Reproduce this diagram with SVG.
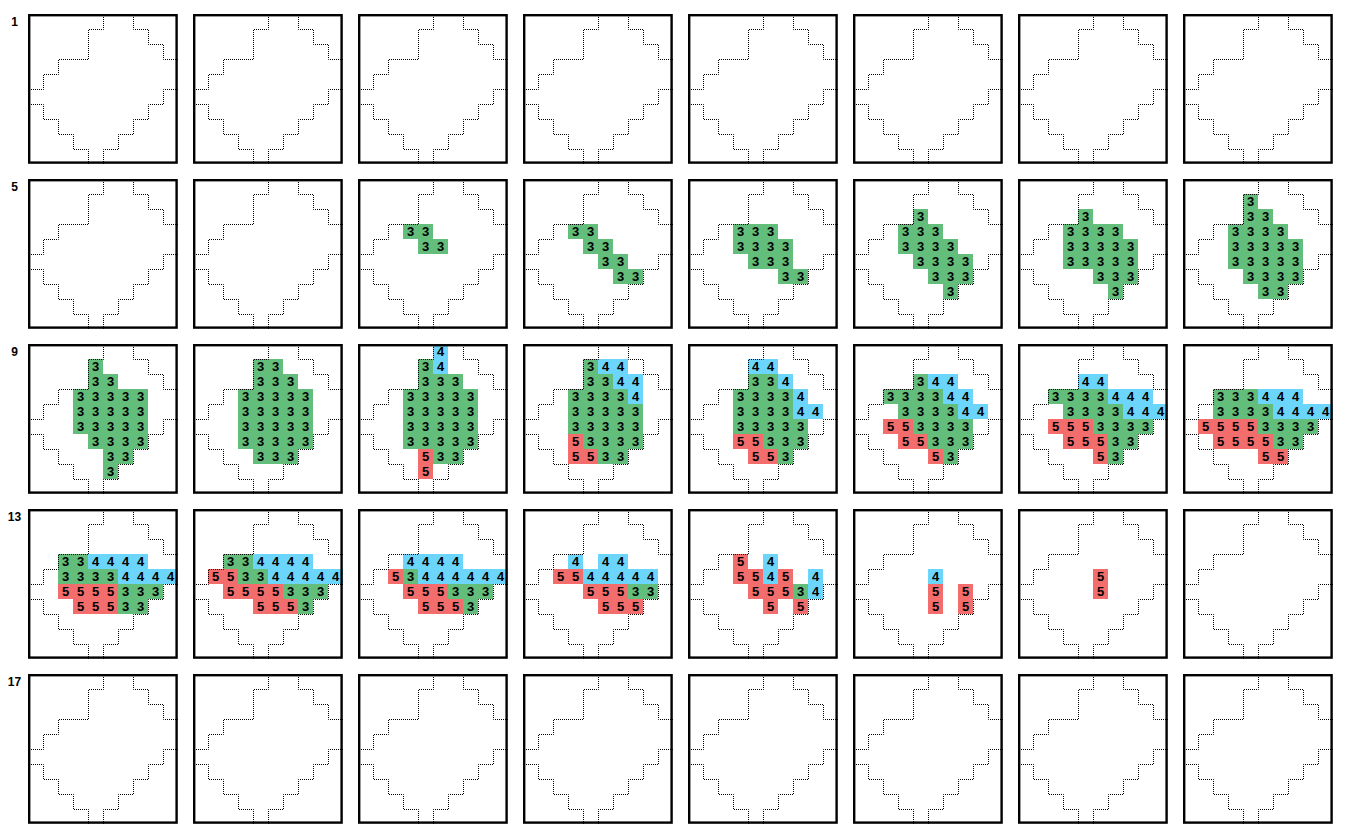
<svg xmlns="http://www.w3.org/2000/svg" xmlns:xlink="http://www.w3.org/1999/xlink" width="1349" height="839" viewBox="0 0 1349 839">
<style>
.g,.b,.r{width:15px;height:15px}
.g{fill:#63be7b}.b{fill:#6cd5fb}.r{fill:#f46d6d}
text{font-family:"Liberation Sans",Arial,sans-serif;font-weight:bold;fill:#000}
.t{font-size:13px;text-anchor:middle}
.lab{font-size:12px;text-anchor:middle}
.dot{fill:none;stroke:#000;stroke-width:1;stroke-dasharray:1 1;stroke-dashoffset:1.5}
.bd{fill:none;stroke:#000;stroke-width:2.4}
</style>
<defs>
<g id="frame">
<path class="dot" transform="translate(0.5,0.5)" d="M75,0V15H60V45H30V60H15V75H0M105,0V15H120V30H135V45H150M0,90H15V105H30V120H45V135H60V150M150,75H135V90H120V105H105V120H90V135H75V150"/>
<rect class="bd" x="1.2" y="1.2" width="147.4" height="147.4"/>
</g>
</defs>
<rect width="1349" height="839" fill="#fff"/>
<g id="labels">
<text class="lab" x="14.5" y="26">1</text>
<text class="lab" x="14.5" y="191">5</text>
<text class="lab" x="14.5" y="356">9</text>
<text class="lab" x="14.5" y="521">13</text>
<text class="lab" x="14.5" y="686">17</text>
</g>
<g id="connectors"/>
<!-- row 1 -->
<g id="p1-1" transform="translate(28,14)"><use href="#frame"/></g>
<g id="p1-2" transform="translate(193,14)"><use href="#frame"/></g>
<g id="p1-3" transform="translate(358,14)"><use href="#frame"/></g>
<g id="p1-4" transform="translate(523,14)"><use href="#frame"/></g>
<g id="p1-5" transform="translate(688,14)"><use href="#frame"/></g>
<g id="p1-6" transform="translate(853,14)"><use href="#frame"/></g>
<g id="p1-7" transform="translate(1018,14)"><use href="#frame"/></g>
<g id="p1-8" transform="translate(1183,14)"><use href="#frame"/></g>
<!-- row 2 -->
<g id="p2-1" transform="translate(28,179)"><use href="#frame"/></g>
<g id="p2-2" transform="translate(193,179)"><use href="#frame"/></g>
<g id="p2-3" transform="translate(358,179)">
<rect class="g" x="45" y="45"/><text class="t" x="52.5" y="57">3</text>
<rect class="g" x="60" y="45"/><text class="t" x="67.5" y="57">3</text>
<rect class="g" x="60" y="60"/><text class="t" x="67.5" y="72">3</text>
<rect class="g" x="75" y="60"/><text class="t" x="82.5" y="72">3</text>
<use href="#frame"/></g>
<g id="p2-4" transform="translate(523,179)">
<rect class="g" x="45" y="45"/><text class="t" x="52.5" y="57">3</text>
<rect class="g" x="60" y="45"/><text class="t" x="67.5" y="57">3</text>
<rect class="g" x="60" y="60"/><text class="t" x="67.5" y="72">3</text>
<rect class="g" x="75" y="60"/><text class="t" x="82.5" y="72">3</text>
<rect class="g" x="75" y="75"/><text class="t" x="82.5" y="87">3</text>
<rect class="g" x="90" y="75"/><text class="t" x="97.5" y="87">3</text>
<rect class="g" x="90" y="90"/><text class="t" x="97.5" y="102">3</text>
<rect class="g" x="105" y="90"/><text class="t" x="112.5" y="102">3</text>
<use href="#frame"/></g>
<g id="p2-5" transform="translate(688,179)">
<rect class="g" x="45" y="45"/><text class="t" x="52.5" y="57">3</text>
<rect class="g" x="60" y="45"/><text class="t" x="67.5" y="57">3</text>
<rect class="g" x="75" y="45"/><text class="t" x="82.5" y="57">3</text>
<rect class="g" x="45" y="60"/><text class="t" x="52.5" y="72">3</text>
<rect class="g" x="60" y="60"/><text class="t" x="67.5" y="72">3</text>
<rect class="g" x="75" y="60"/><text class="t" x="82.5" y="72">3</text>
<rect class="g" x="90" y="60"/><text class="t" x="97.5" y="72">3</text>
<rect class="g" x="60" y="75"/><text class="t" x="67.5" y="87">3</text>
<rect class="g" x="75" y="75"/><text class="t" x="82.5" y="87">3</text>
<rect class="g" x="90" y="75"/><text class="t" x="97.5" y="87">3</text>
<rect class="g" x="90" y="90"/><text class="t" x="97.5" y="102">3</text>
<rect class="g" x="105" y="90"/><text class="t" x="112.5" y="102">3</text>
<use href="#frame"/></g>
<g id="p2-6" transform="translate(853,179)">
<rect class="g" x="60" y="30"/><text class="t" x="67.5" y="42">3</text>
<rect class="g" x="45" y="45"/><text class="t" x="52.5" y="57">3</text>
<rect class="g" x="60" y="45"/><text class="t" x="67.5" y="57">3</text>
<rect class="g" x="75" y="45"/><text class="t" x="82.5" y="57">3</text>
<rect class="g" x="45" y="60"/><text class="t" x="52.5" y="72">3</text>
<rect class="g" x="60" y="60"/><text class="t" x="67.5" y="72">3</text>
<rect class="g" x="75" y="60"/><text class="t" x="82.5" y="72">3</text>
<rect class="g" x="90" y="60"/><text class="t" x="97.5" y="72">3</text>
<rect class="g" x="60" y="75"/><text class="t" x="67.5" y="87">3</text>
<rect class="g" x="75" y="75"/><text class="t" x="82.5" y="87">3</text>
<rect class="g" x="90" y="75"/><text class="t" x="97.5" y="87">3</text>
<rect class="g" x="105" y="75"/><text class="t" x="112.5" y="87">3</text>
<rect class="g" x="75" y="90"/><text class="t" x="82.5" y="102">3</text>
<rect class="g" x="90" y="90"/><text class="t" x="97.5" y="102">3</text>
<rect class="g" x="105" y="90"/><text class="t" x="112.5" y="102">3</text>
<rect class="g" x="90" y="105"/><text class="t" x="97.5" y="117">3</text>
<use href="#frame"/></g>
<g id="p2-7" transform="translate(1018,179)">
<rect class="g" x="60" y="30"/><text class="t" x="67.5" y="42">3</text>
<rect class="g" x="45" y="45"/><text class="t" x="52.5" y="57">3</text>
<rect class="g" x="60" y="45"/><text class="t" x="67.5" y="57">3</text>
<rect class="g" x="75" y="45"/><text class="t" x="82.5" y="57">3</text>
<rect class="g" x="90" y="45"/><text class="t" x="97.5" y="57">3</text>
<rect class="g" x="45" y="60"/><text class="t" x="52.5" y="72">3</text>
<rect class="g" x="60" y="60"/><text class="t" x="67.5" y="72">3</text>
<rect class="g" x="75" y="60"/><text class="t" x="82.5" y="72">3</text>
<rect class="g" x="90" y="60"/><text class="t" x="97.5" y="72">3</text>
<rect class="g" x="105" y="60"/><text class="t" x="112.5" y="72">3</text>
<rect class="g" x="45" y="75"/><text class="t" x="52.5" y="87">3</text>
<rect class="g" x="60" y="75"/><text class="t" x="67.5" y="87">3</text>
<rect class="g" x="75" y="75"/><text class="t" x="82.5" y="87">3</text>
<rect class="g" x="90" y="75"/><text class="t" x="97.5" y="87">3</text>
<rect class="g" x="105" y="75"/><text class="t" x="112.5" y="87">3</text>
<rect class="g" x="75" y="90"/><text class="t" x="82.5" y="102">3</text>
<rect class="g" x="90" y="90"/><text class="t" x="97.5" y="102">3</text>
<rect class="g" x="105" y="90"/><text class="t" x="112.5" y="102">3</text>
<rect class="g" x="90" y="105"/><text class="t" x="97.5" y="117">3</text>
<use href="#frame"/></g>
<g id="p2-8" transform="translate(1183,179)">
<rect class="g" x="60" y="15"/><text class="t" x="67.5" y="27">3</text>
<rect class="g" x="60" y="30"/><text class="t" x="67.5" y="42">3</text>
<rect class="g" x="75" y="30"/><text class="t" x="82.5" y="42">3</text>
<rect class="g" x="45" y="45"/><text class="t" x="52.5" y="57">3</text>
<rect class="g" x="60" y="45"/><text class="t" x="67.5" y="57">3</text>
<rect class="g" x="75" y="45"/><text class="t" x="82.5" y="57">3</text>
<rect class="g" x="90" y="45"/><text class="t" x="97.5" y="57">3</text>
<rect class="g" x="45" y="60"/><text class="t" x="52.5" y="72">3</text>
<rect class="g" x="60" y="60"/><text class="t" x="67.5" y="72">3</text>
<rect class="g" x="75" y="60"/><text class="t" x="82.5" y="72">3</text>
<rect class="g" x="90" y="60"/><text class="t" x="97.5" y="72">3</text>
<rect class="g" x="105" y="60"/><text class="t" x="112.5" y="72">3</text>
<rect class="g" x="45" y="75"/><text class="t" x="52.5" y="87">3</text>
<rect class="g" x="60" y="75"/><text class="t" x="67.5" y="87">3</text>
<rect class="g" x="75" y="75"/><text class="t" x="82.5" y="87">3</text>
<rect class="g" x="90" y="75"/><text class="t" x="97.5" y="87">3</text>
<rect class="g" x="105" y="75"/><text class="t" x="112.5" y="87">3</text>
<rect class="g" x="60" y="90"/><text class="t" x="67.5" y="102">3</text>
<rect class="g" x="75" y="90"/><text class="t" x="82.5" y="102">3</text>
<rect class="g" x="90" y="90"/><text class="t" x="97.5" y="102">3</text>
<rect class="g" x="105" y="90"/><text class="t" x="112.5" y="102">3</text>
<rect class="g" x="75" y="105"/><text class="t" x="82.5" y="117">3</text>
<rect class="g" x="90" y="105"/><text class="t" x="97.5" y="117">3</text>
<use href="#frame"/></g>
<!-- row 3 -->
<g id="p3-1" transform="translate(28,344)">
<rect class="g" x="60" y="15"/><text class="t" x="67.5" y="27">3</text>
<rect class="g" x="60" y="30"/><text class="t" x="67.5" y="42">3</text>
<rect class="g" x="75" y="30"/><text class="t" x="82.5" y="42">3</text>
<rect class="g" x="45" y="45"/><text class="t" x="52.5" y="57">3</text>
<rect class="g" x="60" y="45"/><text class="t" x="67.5" y="57">3</text>
<rect class="g" x="75" y="45"/><text class="t" x="82.5" y="57">3</text>
<rect class="g" x="90" y="45"/><text class="t" x="97.5" y="57">3</text>
<rect class="g" x="105" y="45"/><text class="t" x="112.5" y="57">3</text>
<rect class="g" x="45" y="60"/><text class="t" x="52.5" y="72">3</text>
<rect class="g" x="60" y="60"/><text class="t" x="67.5" y="72">3</text>
<rect class="g" x="75" y="60"/><text class="t" x="82.5" y="72">3</text>
<rect class="g" x="90" y="60"/><text class="t" x="97.5" y="72">3</text>
<rect class="g" x="105" y="60"/><text class="t" x="112.5" y="72">3</text>
<rect class="g" x="45" y="75"/><text class="t" x="52.5" y="87">3</text>
<rect class="g" x="60" y="75"/><text class="t" x="67.5" y="87">3</text>
<rect class="g" x="75" y="75"/><text class="t" x="82.5" y="87">3</text>
<rect class="g" x="90" y="75"/><text class="t" x="97.5" y="87">3</text>
<rect class="g" x="105" y="75"/><text class="t" x="112.5" y="87">3</text>
<rect class="g" x="60" y="90"/><text class="t" x="67.5" y="102">3</text>
<rect class="g" x="75" y="90"/><text class="t" x="82.5" y="102">3</text>
<rect class="g" x="90" y="90"/><text class="t" x="97.5" y="102">3</text>
<rect class="g" x="105" y="90"/><text class="t" x="112.5" y="102">3</text>
<rect class="g" x="75" y="105"/><text class="t" x="82.5" y="117">3</text>
<rect class="g" x="90" y="105"/><text class="t" x="97.5" y="117">3</text>
<rect class="g" x="75" y="120"/><text class="t" x="82.5" y="132">3</text>
<use href="#frame"/></g>
<g id="p3-2" transform="translate(193,344)">
<rect class="g" x="60" y="15"/><text class="t" x="67.5" y="27">3</text>
<rect class="g" x="75" y="15"/><text class="t" x="82.5" y="27">3</text>
<rect class="g" x="60" y="30"/><text class="t" x="67.5" y="42">3</text>
<rect class="g" x="75" y="30"/><text class="t" x="82.5" y="42">3</text>
<rect class="g" x="90" y="30"/><text class="t" x="97.5" y="42">3</text>
<rect class="g" x="45" y="45"/><text class="t" x="52.5" y="57">3</text>
<rect class="g" x="60" y="45"/><text class="t" x="67.5" y="57">3</text>
<rect class="g" x="75" y="45"/><text class="t" x="82.5" y="57">3</text>
<rect class="g" x="90" y="45"/><text class="t" x="97.5" y="57">3</text>
<rect class="g" x="105" y="45"/><text class="t" x="112.5" y="57">3</text>
<rect class="g" x="45" y="60"/><text class="t" x="52.5" y="72">3</text>
<rect class="g" x="60" y="60"/><text class="t" x="67.5" y="72">3</text>
<rect class="g" x="75" y="60"/><text class="t" x="82.5" y="72">3</text>
<rect class="g" x="90" y="60"/><text class="t" x="97.5" y="72">3</text>
<rect class="g" x="105" y="60"/><text class="t" x="112.5" y="72">3</text>
<rect class="g" x="45" y="75"/><text class="t" x="52.5" y="87">3</text>
<rect class="g" x="60" y="75"/><text class="t" x="67.5" y="87">3</text>
<rect class="g" x="75" y="75"/><text class="t" x="82.5" y="87">3</text>
<rect class="g" x="90" y="75"/><text class="t" x="97.5" y="87">3</text>
<rect class="g" x="105" y="75"/><text class="t" x="112.5" y="87">3</text>
<rect class="g" x="45" y="90"/><text class="t" x="52.5" y="102">3</text>
<rect class="g" x="60" y="90"/><text class="t" x="67.5" y="102">3</text>
<rect class="g" x="75" y="90"/><text class="t" x="82.5" y="102">3</text>
<rect class="g" x="90" y="90"/><text class="t" x="97.5" y="102">3</text>
<rect class="g" x="105" y="90"/><text class="t" x="112.5" y="102">3</text>
<rect class="g" x="60" y="105"/><text class="t" x="67.5" y="117">3</text>
<rect class="g" x="75" y="105"/><text class="t" x="82.5" y="117">3</text>
<rect class="g" x="90" y="105"/><text class="t" x="97.5" y="117">3</text>
<use href="#frame"/></g>
<g id="p3-3" transform="translate(358,344)">
<rect class="b" x="75" y="0"/><text class="t" x="82.5" y="12">4</text>
<rect class="g" x="60" y="15"/><text class="t" x="67.5" y="27">3</text>
<rect class="b" x="75" y="15"/><text class="t" x="82.5" y="27">4</text>
<rect class="g" x="60" y="30"/><text class="t" x="67.5" y="42">3</text>
<rect class="g" x="75" y="30"/><text class="t" x="82.5" y="42">3</text>
<rect class="g" x="90" y="30"/><text class="t" x="97.5" y="42">3</text>
<rect class="g" x="45" y="45"/><text class="t" x="52.5" y="57">3</text>
<rect class="g" x="60" y="45"/><text class="t" x="67.5" y="57">3</text>
<rect class="g" x="75" y="45"/><text class="t" x="82.5" y="57">3</text>
<rect class="g" x="90" y="45"/><text class="t" x="97.5" y="57">3</text>
<rect class="g" x="105" y="45"/><text class="t" x="112.5" y="57">3</text>
<rect class="g" x="45" y="60"/><text class="t" x="52.5" y="72">3</text>
<rect class="g" x="60" y="60"/><text class="t" x="67.5" y="72">3</text>
<rect class="g" x="75" y="60"/><text class="t" x="82.5" y="72">3</text>
<rect class="g" x="90" y="60"/><text class="t" x="97.5" y="72">3</text>
<rect class="g" x="105" y="60"/><text class="t" x="112.5" y="72">3</text>
<rect class="g" x="45" y="75"/><text class="t" x="52.5" y="87">3</text>
<rect class="g" x="60" y="75"/><text class="t" x="67.5" y="87">3</text>
<rect class="g" x="75" y="75"/><text class="t" x="82.5" y="87">3</text>
<rect class="g" x="90" y="75"/><text class="t" x="97.5" y="87">3</text>
<rect class="g" x="105" y="75"/><text class="t" x="112.5" y="87">3</text>
<rect class="g" x="45" y="90"/><text class="t" x="52.5" y="102">3</text>
<rect class="g" x="60" y="90"/><text class="t" x="67.5" y="102">3</text>
<rect class="g" x="75" y="90"/><text class="t" x="82.5" y="102">3</text>
<rect class="g" x="90" y="90"/><text class="t" x="97.5" y="102">3</text>
<rect class="g" x="105" y="90"/><text class="t" x="112.5" y="102">3</text>
<rect class="r" x="60" y="105"/><text class="t" x="67.5" y="117">5</text>
<rect class="g" x="75" y="105"/><text class="t" x="82.5" y="117">3</text>
<rect class="g" x="90" y="105"/><text class="t" x="97.5" y="117">3</text>
<rect class="r" x="60" y="120"/><text class="t" x="67.5" y="132">5</text>
<use href="#frame"/></g>
<g id="p3-4" transform="translate(523,344)">
<rect class="g" x="60" y="15"/><text class="t" x="67.5" y="27">3</text>
<rect class="b" x="75" y="15"/><text class="t" x="82.5" y="27">4</text>
<rect class="b" x="90" y="15"/><text class="t" x="97.5" y="27">4</text>
<rect class="g" x="60" y="30"/><text class="t" x="67.5" y="42">3</text>
<rect class="g" x="75" y="30"/><text class="t" x="82.5" y="42">3</text>
<rect class="b" x="90" y="30"/><text class="t" x="97.5" y="42">4</text>
<rect class="b" x="105" y="30"/><text class="t" x="112.5" y="42">4</text>
<rect class="g" x="45" y="45"/><text class="t" x="52.5" y="57">3</text>
<rect class="g" x="60" y="45"/><text class="t" x="67.5" y="57">3</text>
<rect class="g" x="75" y="45"/><text class="t" x="82.5" y="57">3</text>
<rect class="g" x="90" y="45"/><text class="t" x="97.5" y="57">3</text>
<rect class="b" x="105" y="45"/><text class="t" x="112.5" y="57">4</text>
<rect class="g" x="45" y="60"/><text class="t" x="52.5" y="72">3</text>
<rect class="g" x="60" y="60"/><text class="t" x="67.5" y="72">3</text>
<rect class="g" x="75" y="60"/><text class="t" x="82.5" y="72">3</text>
<rect class="g" x="90" y="60"/><text class="t" x="97.5" y="72">3</text>
<rect class="g" x="105" y="60"/><text class="t" x="112.5" y="72">3</text>
<rect class="g" x="45" y="75"/><text class="t" x="52.5" y="87">3</text>
<rect class="g" x="60" y="75"/><text class="t" x="67.5" y="87">3</text>
<rect class="g" x="75" y="75"/><text class="t" x="82.5" y="87">3</text>
<rect class="g" x="90" y="75"/><text class="t" x="97.5" y="87">3</text>
<rect class="g" x="105" y="75"/><text class="t" x="112.5" y="87">3</text>
<rect class="r" x="45" y="90"/><text class="t" x="52.5" y="102">5</text>
<rect class="g" x="60" y="90"/><text class="t" x="67.5" y="102">3</text>
<rect class="g" x="75" y="90"/><text class="t" x="82.5" y="102">3</text>
<rect class="g" x="90" y="90"/><text class="t" x="97.5" y="102">3</text>
<rect class="g" x="105" y="90"/><text class="t" x="112.5" y="102">3</text>
<rect class="r" x="45" y="105"/><text class="t" x="52.5" y="117">5</text>
<rect class="r" x="60" y="105"/><text class="t" x="67.5" y="117">5</text>
<rect class="g" x="75" y="105"/><text class="t" x="82.5" y="117">3</text>
<rect class="g" x="90" y="105"/><text class="t" x="97.5" y="117">3</text>
<use href="#frame"/></g>
<g id="p3-5" transform="translate(688,344)">
<rect class="b" x="60" y="15"/><text class="t" x="67.5" y="27">4</text>
<rect class="b" x="75" y="15"/><text class="t" x="82.5" y="27">4</text>
<rect class="g" x="60" y="30"/><text class="t" x="67.5" y="42">3</text>
<rect class="g" x="75" y="30"/><text class="t" x="82.5" y="42">3</text>
<rect class="b" x="90" y="30"/><text class="t" x="97.5" y="42">4</text>
<rect class="g" x="45" y="45"/><text class="t" x="52.5" y="57">3</text>
<rect class="g" x="60" y="45"/><text class="t" x="67.5" y="57">3</text>
<rect class="g" x="75" y="45"/><text class="t" x="82.5" y="57">3</text>
<rect class="g" x="90" y="45"/><text class="t" x="97.5" y="57">3</text>
<rect class="b" x="105" y="45"/><text class="t" x="112.5" y="57">4</text>
<rect class="g" x="45" y="60"/><text class="t" x="52.5" y="72">3</text>
<rect class="g" x="60" y="60"/><text class="t" x="67.5" y="72">3</text>
<rect class="g" x="75" y="60"/><text class="t" x="82.5" y="72">3</text>
<rect class="g" x="90" y="60"/><text class="t" x="97.5" y="72">3</text>
<rect class="b" x="105" y="60"/><text class="t" x="112.5" y="72">4</text>
<rect class="b" x="120" y="60"/><text class="t" x="127.5" y="72">4</text>
<rect class="g" x="45" y="75"/><text class="t" x="52.5" y="87">3</text>
<rect class="g" x="60" y="75"/><text class="t" x="67.5" y="87">3</text>
<rect class="g" x="75" y="75"/><text class="t" x="82.5" y="87">3</text>
<rect class="g" x="90" y="75"/><text class="t" x="97.5" y="87">3</text>
<rect class="g" x="105" y="75"/><text class="t" x="112.5" y="87">3</text>
<rect class="r" x="45" y="90"/><text class="t" x="52.5" y="102">5</text>
<rect class="r" x="60" y="90"/><text class="t" x="67.5" y="102">5</text>
<rect class="g" x="75" y="90"/><text class="t" x="82.5" y="102">3</text>
<rect class="g" x="90" y="90"/><text class="t" x="97.5" y="102">3</text>
<rect class="g" x="105" y="90"/><text class="t" x="112.5" y="102">3</text>
<rect class="r" x="60" y="105"/><text class="t" x="67.5" y="117">5</text>
<rect class="r" x="75" y="105"/><text class="t" x="82.5" y="117">5</text>
<rect class="g" x="90" y="105"/><text class="t" x="97.5" y="117">3</text>
<use href="#frame"/></g>
<g id="p3-6" transform="translate(853,344)">
<rect class="g" x="60" y="30"/><text class="t" x="67.5" y="42">3</text>
<rect class="b" x="75" y="30"/><text class="t" x="82.5" y="42">4</text>
<rect class="b" x="90" y="30"/><text class="t" x="97.5" y="42">4</text>
<rect class="g" x="30" y="45"/><text class="t" x="37.5" y="57">3</text>
<rect class="g" x="45" y="45"/><text class="t" x="52.5" y="57">3</text>
<rect class="g" x="60" y="45"/><text class="t" x="67.5" y="57">3</text>
<rect class="g" x="75" y="45"/><text class="t" x="82.5" y="57">3</text>
<rect class="b" x="90" y="45"/><text class="t" x="97.5" y="57">4</text>
<rect class="b" x="105" y="45"/><text class="t" x="112.5" y="57">4</text>
<rect class="g" x="45" y="60"/><text class="t" x="52.5" y="72">3</text>
<rect class="g" x="60" y="60"/><text class="t" x="67.5" y="72">3</text>
<rect class="g" x="75" y="60"/><text class="t" x="82.5" y="72">3</text>
<rect class="g" x="90" y="60"/><text class="t" x="97.5" y="72">3</text>
<rect class="b" x="105" y="60"/><text class="t" x="112.5" y="72">4</text>
<rect class="b" x="120" y="60"/><text class="t" x="127.5" y="72">4</text>
<rect class="r" x="30" y="75"/><text class="t" x="37.5" y="87">5</text>
<rect class="r" x="45" y="75"/><text class="t" x="52.5" y="87">5</text>
<rect class="g" x="60" y="75"/><text class="t" x="67.5" y="87">3</text>
<rect class="g" x="75" y="75"/><text class="t" x="82.5" y="87">3</text>
<rect class="g" x="90" y="75"/><text class="t" x="97.5" y="87">3</text>
<rect class="g" x="105" y="75"/><text class="t" x="112.5" y="87">3</text>
<rect class="r" x="45" y="90"/><text class="t" x="52.5" y="102">5</text>
<rect class="r" x="60" y="90"/><text class="t" x="67.5" y="102">5</text>
<rect class="g" x="75" y="90"/><text class="t" x="82.5" y="102">3</text>
<rect class="g" x="90" y="90"/><text class="t" x="97.5" y="102">3</text>
<rect class="g" x="105" y="90"/><text class="t" x="112.5" y="102">3</text>
<rect class="r" x="75" y="105"/><text class="t" x="82.5" y="117">5</text>
<rect class="g" x="90" y="105"/><text class="t" x="97.5" y="117">3</text>
<use href="#frame"/></g>
<g id="p3-7" transform="translate(1018,344)">
<rect class="b" x="60" y="30"/><text class="t" x="67.5" y="42">4</text>
<rect class="b" x="75" y="30"/><text class="t" x="82.5" y="42">4</text>
<rect class="g" x="30" y="45"/><text class="t" x="37.5" y="57">3</text>
<rect class="g" x="45" y="45"/><text class="t" x="52.5" y="57">3</text>
<rect class="g" x="60" y="45"/><text class="t" x="67.5" y="57">3</text>
<rect class="g" x="75" y="45"/><text class="t" x="82.5" y="57">3</text>
<rect class="b" x="90" y="45"/><text class="t" x="97.5" y="57">4</text>
<rect class="b" x="105" y="45"/><text class="t" x="112.5" y="57">4</text>
<rect class="b" x="120" y="45"/><text class="t" x="127.5" y="57">4</text>
<rect class="g" x="45" y="60"/><text class="t" x="52.5" y="72">3</text>
<rect class="g" x="60" y="60"/><text class="t" x="67.5" y="72">3</text>
<rect class="g" x="75" y="60"/><text class="t" x="82.5" y="72">3</text>
<rect class="g" x="90" y="60"/><text class="t" x="97.5" y="72">3</text>
<rect class="b" x="105" y="60"/><text class="t" x="112.5" y="72">4</text>
<rect class="b" x="120" y="60"/><text class="t" x="127.5" y="72">4</text>
<rect class="b" x="135" y="60"/><text class="t" x="142.5" y="72">4</text>
<rect class="r" x="30" y="75"/><text class="t" x="37.5" y="87">5</text>
<rect class="r" x="45" y="75"/><text class="t" x="52.5" y="87">5</text>
<rect class="r" x="60" y="75"/><text class="t" x="67.5" y="87">5</text>
<rect class="g" x="75" y="75"/><text class="t" x="82.5" y="87">3</text>
<rect class="g" x="90" y="75"/><text class="t" x="97.5" y="87">3</text>
<rect class="g" x="105" y="75"/><text class="t" x="112.5" y="87">3</text>
<rect class="g" x="120" y="75"/><text class="t" x="127.5" y="87">3</text>
<rect class="r" x="45" y="90"/><text class="t" x="52.5" y="102">5</text>
<rect class="r" x="60" y="90"/><text class="t" x="67.5" y="102">5</text>
<rect class="r" x="75" y="90"/><text class="t" x="82.5" y="102">5</text>
<rect class="g" x="90" y="90"/><text class="t" x="97.5" y="102">3</text>
<rect class="g" x="105" y="90"/><text class="t" x="112.5" y="102">3</text>
<rect class="r" x="75" y="105"/><text class="t" x="82.5" y="117">5</text>
<rect class="g" x="90" y="105"/><text class="t" x="97.5" y="117">3</text>
<use href="#frame"/></g>
<g id="p3-8" transform="translate(1183,344)">
<rect class="g" x="30" y="45"/><text class="t" x="37.5" y="57">3</text>
<rect class="g" x="45" y="45"/><text class="t" x="52.5" y="57">3</text>
<rect class="g" x="60" y="45"/><text class="t" x="67.5" y="57">3</text>
<rect class="b" x="75" y="45"/><text class="t" x="82.5" y="57">4</text>
<rect class="b" x="90" y="45"/><text class="t" x="97.5" y="57">4</text>
<rect class="b" x="105" y="45"/><text class="t" x="112.5" y="57">4</text>
<rect class="g" x="30" y="60"/><text class="t" x="37.5" y="72">3</text>
<rect class="g" x="45" y="60"/><text class="t" x="52.5" y="72">3</text>
<rect class="g" x="60" y="60"/><text class="t" x="67.5" y="72">3</text>
<rect class="g" x="75" y="60"/><text class="t" x="82.5" y="72">3</text>
<rect class="b" x="90" y="60"/><text class="t" x="97.5" y="72">4</text>
<rect class="b" x="105" y="60"/><text class="t" x="112.5" y="72">4</text>
<rect class="b" x="120" y="60"/><text class="t" x="127.5" y="72">4</text>
<rect class="b" x="135" y="60"/><text class="t" x="142.5" y="72">4</text>
<rect class="r" x="15" y="75"/><text class="t" x="22.5" y="87">5</text>
<rect class="r" x="30" y="75"/><text class="t" x="37.5" y="87">5</text>
<rect class="r" x="45" y="75"/><text class="t" x="52.5" y="87">5</text>
<rect class="r" x="60" y="75"/><text class="t" x="67.5" y="87">5</text>
<rect class="g" x="75" y="75"/><text class="t" x="82.5" y="87">3</text>
<rect class="g" x="90" y="75"/><text class="t" x="97.5" y="87">3</text>
<rect class="g" x="105" y="75"/><text class="t" x="112.5" y="87">3</text>
<rect class="g" x="120" y="75"/><text class="t" x="127.5" y="87">3</text>
<rect class="r" x="30" y="90"/><text class="t" x="37.5" y="102">5</text>
<rect class="r" x="45" y="90"/><text class="t" x="52.5" y="102">5</text>
<rect class="r" x="60" y="90"/><text class="t" x="67.5" y="102">5</text>
<rect class="r" x="75" y="90"/><text class="t" x="82.5" y="102">5</text>
<rect class="g" x="90" y="90"/><text class="t" x="97.5" y="102">3</text>
<rect class="g" x="105" y="90"/><text class="t" x="112.5" y="102">3</text>
<rect class="r" x="75" y="105"/><text class="t" x="82.5" y="117">5</text>
<rect class="r" x="90" y="105"/><text class="t" x="97.5" y="117">5</text>
<use href="#frame"/></g>
<!-- row 4 -->
<g id="p4-1" transform="translate(28,509)">
<rect class="g" x="30" y="45"/><text class="t" x="37.5" y="57">3</text>
<rect class="g" x="45" y="45"/><text class="t" x="52.5" y="57">3</text>
<rect class="b" x="60" y="45"/><text class="t" x="67.5" y="57">4</text>
<rect class="b" x="75" y="45"/><text class="t" x="82.5" y="57">4</text>
<rect class="b" x="90" y="45"/><text class="t" x="97.5" y="57">4</text>
<rect class="b" x="105" y="45"/><text class="t" x="112.5" y="57">4</text>
<rect class="g" x="30" y="60"/><text class="t" x="37.5" y="72">3</text>
<rect class="g" x="45" y="60"/><text class="t" x="52.5" y="72">3</text>
<rect class="g" x="60" y="60"/><text class="t" x="67.5" y="72">3</text>
<rect class="g" x="75" y="60"/><text class="t" x="82.5" y="72">3</text>
<rect class="b" x="90" y="60"/><text class="t" x="97.5" y="72">4</text>
<rect class="b" x="105" y="60"/><text class="t" x="112.5" y="72">4</text>
<rect class="b" x="120" y="60"/><text class="t" x="127.5" y="72">4</text>
<rect class="b" x="135" y="60"/><text class="t" x="142.5" y="72">4</text>
<rect class="r" x="30" y="75"/><text class="t" x="37.5" y="87">5</text>
<rect class="r" x="45" y="75"/><text class="t" x="52.5" y="87">5</text>
<rect class="r" x="60" y="75"/><text class="t" x="67.5" y="87">5</text>
<rect class="r" x="75" y="75"/><text class="t" x="82.5" y="87">5</text>
<rect class="g" x="90" y="75"/><text class="t" x="97.5" y="87">3</text>
<rect class="g" x="105" y="75"/><text class="t" x="112.5" y="87">3</text>
<rect class="g" x="120" y="75"/><text class="t" x="127.5" y="87">3</text>
<rect class="r" x="45" y="90"/><text class="t" x="52.5" y="102">5</text>
<rect class="r" x="60" y="90"/><text class="t" x="67.5" y="102">5</text>
<rect class="r" x="75" y="90"/><text class="t" x="82.5" y="102">5</text>
<rect class="g" x="90" y="90"/><text class="t" x="97.5" y="102">3</text>
<rect class="g" x="105" y="90"/><text class="t" x="112.5" y="102">3</text>
<use href="#frame"/></g>
<g id="p4-2" transform="translate(193,509)">
<rect class="g" x="30" y="45"/><text class="t" x="37.5" y="57">3</text>
<rect class="g" x="45" y="45"/><text class="t" x="52.5" y="57">3</text>
<rect class="b" x="60" y="45"/><text class="t" x="67.5" y="57">4</text>
<rect class="b" x="75" y="45"/><text class="t" x="82.5" y="57">4</text>
<rect class="b" x="90" y="45"/><text class="t" x="97.5" y="57">4</text>
<rect class="b" x="105" y="45"/><text class="t" x="112.5" y="57">4</text>
<rect class="r" x="15" y="60"/><text class="t" x="22.5" y="72">5</text>
<rect class="r" x="30" y="60"/><text class="t" x="37.5" y="72">5</text>
<rect class="g" x="45" y="60"/><text class="t" x="52.5" y="72">3</text>
<rect class="g" x="60" y="60"/><text class="t" x="67.5" y="72">3</text>
<rect class="b" x="75" y="60"/><text class="t" x="82.5" y="72">4</text>
<rect class="b" x="90" y="60"/><text class="t" x="97.5" y="72">4</text>
<rect class="b" x="105" y="60"/><text class="t" x="112.5" y="72">4</text>
<rect class="b" x="120" y="60"/><text class="t" x="127.5" y="72">4</text>
<rect class="b" x="135" y="60"/><text class="t" x="142.5" y="72">4</text>
<rect class="r" x="30" y="75"/><text class="t" x="37.5" y="87">5</text>
<rect class="r" x="45" y="75"/><text class="t" x="52.5" y="87">5</text>
<rect class="r" x="60" y="75"/><text class="t" x="67.5" y="87">5</text>
<rect class="r" x="75" y="75"/><text class="t" x="82.5" y="87">5</text>
<rect class="g" x="90" y="75"/><text class="t" x="97.5" y="87">3</text>
<rect class="g" x="105" y="75"/><text class="t" x="112.5" y="87">3</text>
<rect class="g" x="120" y="75"/><text class="t" x="127.5" y="87">3</text>
<rect class="r" x="60" y="90"/><text class="t" x="67.5" y="102">5</text>
<rect class="r" x="75" y="90"/><text class="t" x="82.5" y="102">5</text>
<rect class="r" x="90" y="90"/><text class="t" x="97.5" y="102">5</text>
<rect class="g" x="105" y="90"/><text class="t" x="112.5" y="102">3</text>
<use href="#frame"/></g>
<g id="p4-3" transform="translate(358,509)">
<rect class="b" x="45" y="45"/><text class="t" x="52.5" y="57">4</text>
<rect class="b" x="60" y="45"/><text class="t" x="67.5" y="57">4</text>
<rect class="b" x="75" y="45"/><text class="t" x="82.5" y="57">4</text>
<rect class="b" x="90" y="45"/><text class="t" x="97.5" y="57">4</text>
<rect class="r" x="30" y="60"/><text class="t" x="37.5" y="72">5</text>
<rect class="g" x="45" y="60"/><text class="t" x="52.5" y="72">3</text>
<rect class="b" x="60" y="60"/><text class="t" x="67.5" y="72">4</text>
<rect class="b" x="75" y="60"/><text class="t" x="82.5" y="72">4</text>
<rect class="b" x="90" y="60"/><text class="t" x="97.5" y="72">4</text>
<rect class="b" x="105" y="60"/><text class="t" x="112.5" y="72">4</text>
<rect class="b" x="120" y="60"/><text class="t" x="127.5" y="72">4</text>
<rect class="b" x="135" y="60"/><text class="t" x="142.5" y="72">4</text>
<rect class="r" x="45" y="75"/><text class="t" x="52.5" y="87">5</text>
<rect class="r" x="60" y="75"/><text class="t" x="67.5" y="87">5</text>
<rect class="r" x="75" y="75"/><text class="t" x="82.5" y="87">5</text>
<rect class="g" x="90" y="75"/><text class="t" x="97.5" y="87">3</text>
<rect class="g" x="105" y="75"/><text class="t" x="112.5" y="87">3</text>
<rect class="g" x="120" y="75"/><text class="t" x="127.5" y="87">3</text>
<rect class="r" x="60" y="90"/><text class="t" x="67.5" y="102">5</text>
<rect class="r" x="75" y="90"/><text class="t" x="82.5" y="102">5</text>
<rect class="r" x="90" y="90"/><text class="t" x="97.5" y="102">5</text>
<rect class="g" x="105" y="90"/><text class="t" x="112.5" y="102">3</text>
<use href="#frame"/></g>
<g id="p4-4" transform="translate(523,509)">
<rect class="b" x="45" y="45"/><text class="t" x="52.5" y="57">4</text>
<rect class="b" x="75" y="45"/><text class="t" x="82.5" y="57">4</text>
<rect class="b" x="90" y="45"/><text class="t" x="97.5" y="57">4</text>
<rect class="r" x="30" y="60"/><text class="t" x="37.5" y="72">5</text>
<rect class="r" x="45" y="60"/><text class="t" x="52.5" y="72">5</text>
<rect class="b" x="60" y="60"/><text class="t" x="67.5" y="72">4</text>
<rect class="b" x="75" y="60"/><text class="t" x="82.5" y="72">4</text>
<rect class="b" x="90" y="60"/><text class="t" x="97.5" y="72">4</text>
<rect class="b" x="105" y="60"/><text class="t" x="112.5" y="72">4</text>
<rect class="b" x="120" y="60"/><text class="t" x="127.5" y="72">4</text>
<rect class="r" x="60" y="75"/><text class="t" x="67.5" y="87">5</text>
<rect class="r" x="75" y="75"/><text class="t" x="82.5" y="87">5</text>
<rect class="r" x="90" y="75"/><text class="t" x="97.5" y="87">5</text>
<rect class="g" x="105" y="75"/><text class="t" x="112.5" y="87">3</text>
<rect class="g" x="120" y="75"/><text class="t" x="127.5" y="87">3</text>
<rect class="r" x="75" y="90"/><text class="t" x="82.5" y="102">5</text>
<rect class="r" x="90" y="90"/><text class="t" x="97.5" y="102">5</text>
<rect class="r" x="105" y="90"/><text class="t" x="112.5" y="102">5</text>
<use href="#frame"/></g>
<g id="p4-5" transform="translate(688,509)">
<rect class="r" x="45" y="45"/><text class="t" x="52.5" y="57">5</text>
<rect class="b" x="75" y="45"/><text class="t" x="82.5" y="57">4</text>
<rect class="r" x="45" y="60"/><text class="t" x="52.5" y="72">5</text>
<rect class="r" x="60" y="60"/><text class="t" x="67.5" y="72">5</text>
<rect class="b" x="75" y="60"/><text class="t" x="82.5" y="72">4</text>
<rect class="r" x="90" y="60"/><text class="t" x="97.5" y="72">5</text>
<rect class="b" x="120" y="60"/><text class="t" x="127.5" y="72">4</text>
<rect class="r" x="60" y="75"/><text class="t" x="67.5" y="87">5</text>
<rect class="r" x="75" y="75"/><text class="t" x="82.5" y="87">5</text>
<rect class="r" x="90" y="75"/><text class="t" x="97.5" y="87">5</text>
<rect class="g" x="105" y="75"/><text class="t" x="112.5" y="87">3</text>
<rect class="b" x="120" y="75"/><text class="t" x="127.5" y="87">4</text>
<rect class="r" x="75" y="90"/><text class="t" x="82.5" y="102">5</text>
<rect class="r" x="105" y="90"/><text class="t" x="112.5" y="102">5</text>
<use href="#frame"/></g>
<g id="p4-6" transform="translate(853,509)">
<rect class="b" x="75" y="60"/><text class="t" x="82.5" y="72">4</text>
<rect class="r" x="75" y="75"/><text class="t" x="82.5" y="87">5</text>
<rect class="r" x="75" y="90"/><text class="t" x="82.5" y="102">5</text>
<rect class="r" x="105" y="75"/><text class="t" x="112.5" y="87">5</text>
<rect class="r" x="105" y="90"/><text class="t" x="112.5" y="102">5</text>
<use href="#frame"/></g>
<g id="p4-7" transform="translate(1018,509)">
<rect class="r" x="75" y="60"/><text class="t" x="82.5" y="72">5</text>
<rect class="r" x="75" y="75"/><text class="t" x="82.5" y="87">5</text>
<use href="#frame"/></g>
<g id="p4-8" transform="translate(1183,509)"><use href="#frame"/></g>
<!-- row 5 -->
<g id="p5-1" transform="translate(28,674)"><use href="#frame"/></g>
<g id="p5-2" transform="translate(193,674)"><use href="#frame"/></g>
<g id="p5-3" transform="translate(358,674)"><use href="#frame"/></g>
<g id="p5-4" transform="translate(523,674)"><use href="#frame"/></g>
<g id="p5-5" transform="translate(688,674)"><use href="#frame"/></g>
<g id="p5-6" transform="translate(853,674)"><use href="#frame"/></g>
<g id="p5-7" transform="translate(1018,674)"><use href="#frame"/></g>
<g id="p5-8" transform="translate(1183,674)"><use href="#frame"/></g>
</svg>
